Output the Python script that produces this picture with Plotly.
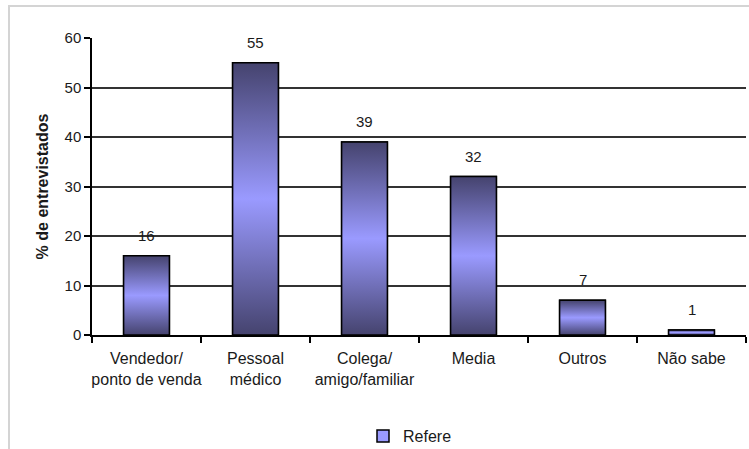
import plotly.graph_objects as go

# Survey data: who recommended / referred (% of respondents)
categories = ["Vendedor/<br>ponto de venda", "Pessoal<br>médico", "Colega/<br>amigo/familiar",
              "Media", "Outros", "Não sabe"]
values = [16, 55, 39, 32, 7, 1]
series_name = "Refere"
y_ticks = [0, 10, 20, 30, 40, 50, 60]

DARK = "#45436e"
LIGHT = "#9a9aff"
BAR_W = 0.42
FONT = "Liberation Sans, Arial, sans-serif"
TXT = "#1a1a1a"

W, H = 749, 449
L, R, T, B = 92, 3, 38, 114

xs = list(range(len(categories)))

fig = go.Figure()

# Base bars (legend entry + outline)
fig.add_trace(go.Bar(
    x=xs, y=values, width=BAR_W, name=series_name,
    marker=dict(color=LIGHT, line=dict(color="black", width=1.5)),
    hoverinfo="skip", showlegend=True,
))

# Vertical gradient fill over each bar: dark at the ends, light in the middle
for i, v in zip(xs, values):
    x0, x1 = i - BAR_W / 2, i + BAR_W / 2
    fig.add_trace(go.Scatter(
        x=[x0, x1, x1, x0, x0], y=[0, 0, v, v, 0],
        mode="lines", fill="toself",
        fillgradient=dict(type="vertical",
                          colorscale=[[0, DARK], [0.5, LIGHT], [1, DARK]]),
        line=dict(color="black", width=1.5),
        showlegend=False, hoverinfo="skip",
    ))

# Value labels above the bars
for i, v in zip(xs, values):
    fig.add_annotation(x=i, y=v, text=str(v), showarrow=False,
                       yanchor="bottom", yshift=10,
                       font=dict(family=FONT, size=15, color=TXT))

plot_w = W - L - R
plot_h = H - T - B

# Light outer frame of the chart area
fig.add_shape(type="rect", xref="paper", yref="paper",
              x0=(9 - L) / plot_w, x1=(W + 5 - L) / plot_w,
              y0=(H - B - (H + 5)) / plot_h, y1=(H - B - 6) / plot_h,
              line=dict(color="#d4d4d4", width=2), layer="below")

fig.update_layout(
    width=W, height=H,
    margin=dict(l=L, r=R, t=T, b=B, autoexpand=False),
    paper_bgcolor="white", plot_bgcolor="white",
    font=dict(family=FONT, size=15, color=TXT),
    showlegend=True,
    legend=dict(orientation="h", x=(410 - L) / plot_w, xanchor="center",
                y=(H - B - 436) / plot_h, yanchor="middle",
                font=dict(family=FONT, size=16, color=TXT),
                itemwidth=30),
    bargap=0.58,
)

fig.update_xaxes(
    range=[-0.5, len(categories) - 0.5], automargin=False,
    tickmode="array", tickvals=xs, ticktext=categories,
    ticks="", showgrid=False, zeroline=False,
    showline=True, linecolor="black", linewidth=1.5,
    tickfont=dict(family=FONT, size=16, color=TXT),
    ticklabelstandoff=8,
    minor=dict(tick0=-0.5, dtick=1, ticks="outside", ticklen=6,
               tickwidth=1.5, tickcolor="black", showgrid=False),
)

fig.update_yaxes(
    range=[0, 60], tickmode="array", tickvals=y_ticks, automargin=False,
    showgrid=True, gridcolor="#333333", gridwidth=2,
    zeroline=False, showline=True, linecolor="black", linewidth=1.5,
    ticks="outside", ticklen=6, tickwidth=1.5, tickcolor="black",
    tickfont=dict(family=FONT, size=15, color=TXT),
    title=dict(text="<b>% de entrevistados</b>",
               font=dict(family=FONT, size=16, color=TXT), standoff=12),
)

fig.write_html("out.html")
